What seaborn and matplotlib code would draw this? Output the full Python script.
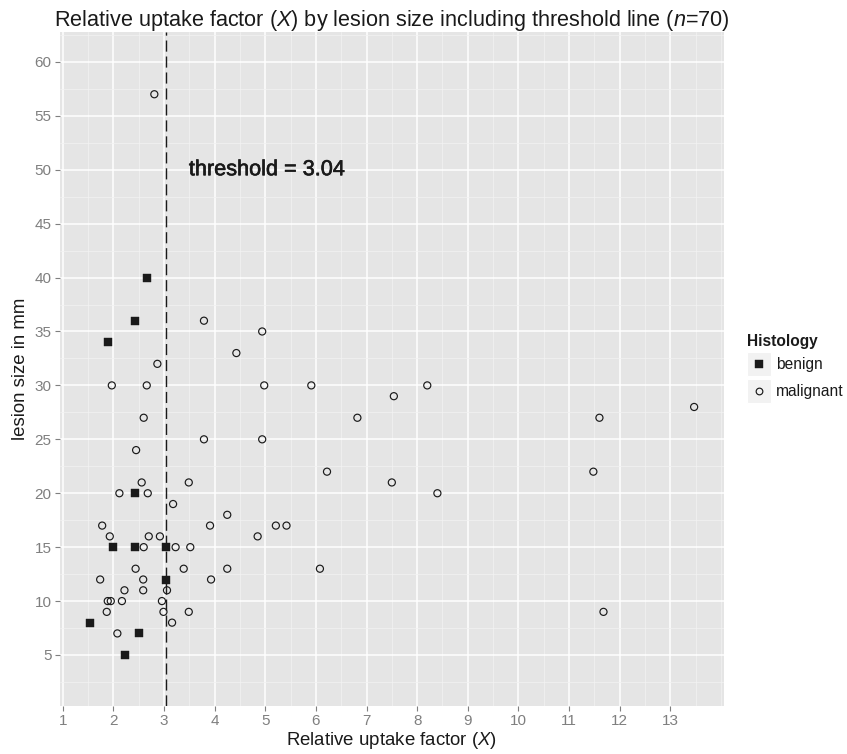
"""Scatter of relative uptake factor vs lesion size, with a threshold line."""
import matplotlib
matplotlib.use("Agg")

import matplotlib.pyplot as plt
import matplotlib.patheffects as pe
import numpy as np
import pandas as pd
import seaborn as sns
from matplotlib.legend_handler import HandlerBase
from matplotlib.lines import Line2D
from matplotlib.patches import Rectangle
from matplotlib.ticker import MultipleLocator


# values
benign_x = [2.66, 2.43, 1.89, 2.43, 1.99, 2.43, 3.04, 3.04, 1.54, 2.50, 2.24]
benign_y = [40, 36, 34, 20, 15, 15, 15, 12, 8, 7, 5]

malignant_x = [
    2.81, 3.79, 4.94, 4.43, 2.87, 1.97, 2.66, 4.98, 5.91, 8.20,
    7.54, 13.47, 2.60, 6.82, 11.60, 3.79, 4.94, 2.45, 6.22, 11.48,
    2.56, 3.49, 7.50, 2.12, 2.68, 8.40, 3.18, 4.25, 1.78, 3.91,
    5.21, 5.42, 1.93, 2.70, 2.92, 4.85, 2.60, 3.23, 3.52, 2.44,
    3.39, 4.25, 6.08, 1.74, 2.59, 3.93, 2.22, 2.59, 3.06, 1.89,
    1.95, 2.17, 2.96, 1.87, 2.99, 3.49, 11.68, 3.16, 2.08,
]
malignant_y = [
    57, 36, 35, 33, 32, 30, 30, 30, 30, 30,
    29, 28, 27, 27, 27, 25, 25, 24, 22, 22,
    21, 21, 21, 20, 20, 20, 19, 18, 17, 17,
    17, 17, 16, 16, 16, 16, 15, 15, 15, 13,
    13, 13, 13, 12, 12, 12, 11, 11, 11, 10,
    10, 10, 10, 9, 9, 9, 9, 8, 7,
]

threshold = 3.04
x_ticks = list(range(1, 14))
y_ticks = list(range(5, 61, 5))

df = pd.DataFrame({
    "uptake": benign_x + malignant_x,
    "size": benign_y + malignant_y,
    "Histology": ["benign"] * len(benign_x) + ["malignant"] * len(malignant_x),
})

INK = "#1a1a1a"
GREY_TXT = "#7f7f7f"

sns.set_theme(style="darkgrid", rc={
    "axes.facecolor": "#e5e5e5",
    "grid.color": "white",
    "axes.edgecolor": "none",
})
plt.rcParams["font.family"] = ["Liberation Sans", "DejaVu Sans"]
plt.rcParams["mathtext.fontset"] = "custom"
plt.rcParams["mathtext.rm"] = "Liberation Sans"
plt.rcParams["mathtext.it"] = "Liberation Sans:italic"

fig = plt.figure(figsize=(8.47, 7.54), dpi=100)
W, H = 847, 754
ax = fig.add_axes([60 / W, 1 - 706 / H, (724 - 60) / W, (706 - 31.7) / H])

# one call per group so the circles can stay hollow
styles = {
    "benign": dict(marker="s", s=34, color=INK, edgecolor=INK, linewidth=0.3),
    "malignant": dict(marker="o", s=26, facecolors="none", edgecolor=INK, linewidth=0.85),
}
for name, kw in styles.items():
    sub = df[df["Histology"] == name]
    sns.scatterplot(data=sub, x="uptake", y="size", ax=ax, legend=False, zorder=3, **kw)

ax.axvline(threshold, color=INK, linewidth=1.0, dashes=(8, 3.5), zorder=2)
ax.text(5.03, 50, f"threshold = {threshold:.2f}", ha="center", va="center",
        fontsize=15.6, color=INK, zorder=4,
        path_effects=[pe.withStroke(linewidth=0.45, foreground=INK)])

ax.set_xlim(0.947, 14.06)
ax.set_ylim(0.27, 62.8)
ax.set_xticks(x_ticks)
ax.set_yticks(y_ticks)
ax.xaxis.set_minor_locator(MultipleLocator(0.5))
ax.yaxis.set_minor_locator(MultipleLocator(2.5))
ax.grid(which="major", color="white", linewidth=1.1)
ax.grid(which="minor", color="#f2f2f2", linewidth=0.55)
ax.set_axisbelow(True)
ax.tick_params(which="major", length=3.6, width=0.8, color=GREY_TXT,
               labelcolor=GREY_TXT, labelsize=11, pad=2.5, bottom=True, left=True)
ax.tick_params(which="minor", length=0)
for s in ax.spines.values():
    s.set_visible(False)

ax.set_xlabel("Relative uptake factor ($X$)", fontsize=13.4, color=INK, labelpad=1)
ax.set_ylabel("lesion size in mm", fontsize=13.4, color=INK, labelpad=4)
ax.set_title("Relative uptake factor ($X$) by lesion size including threshold line ($n$=70)",
             fontsize=15.6, color=INK, pad=4)


class KeyHandler(HandlerBase):
    # ggplot-like key: light grey box with the marker centred in it
    def create_artists(self, legend, orig_handle, xdescent, ydescent,
                       width, height, fontsize, trans):
        bg = Rectangle((-xdescent, -ydescent), width, height, facecolor="#f2f2f2",
                       edgecolor="white", linewidth=0.8, transform=trans)
        mk = Line2D([width / 2 - xdescent], [height / 2 - ydescent],
                    marker=orig_handle.get_marker(), markersize=orig_handle.get_markersize(),
                    markerfacecolor=orig_handle.get_markerfacecolor(),
                    markeredgecolor=orig_handle.get_markeredgecolor(),
                    markeredgewidth=orig_handle.get_markeredgewidth(),
                    linestyle="none", transform=trans)
        return [bg, mk]


handles = [
    Line2D([], [], marker="s", markersize=5.5, markerfacecolor=INK, markeredgecolor=INK,
           markeredgewidth=0.3, linestyle="none"),
    Line2D([], [], marker="o", markersize=4.8, markerfacecolor="none", markeredgecolor=INK,
           markeredgewidth=0.85, linestyle="none"),
]
leg = fig.legend(handles, ["benign", "malignant"], title="Histology",
                 loc="upper left", bbox_to_anchor=(747 / W, 1 - 334 / H),
                 frameon=False, fontsize=11.2, title_fontsize=11.2, borderpad=0,
                 handlelength=1.55, handleheight=2.0, labelspacing=0.2,
                 handletextpad=0.3, borderaxespad=0, alignment="left",
                 handler_map={Line2D: KeyHandler()})
leg.get_title().set_fontweight("bold")
leg.get_title().set_color(INK)
for t in leg.get_texts():
    t.set_color(INK)

fig.savefig("out.png", dpi=100)
